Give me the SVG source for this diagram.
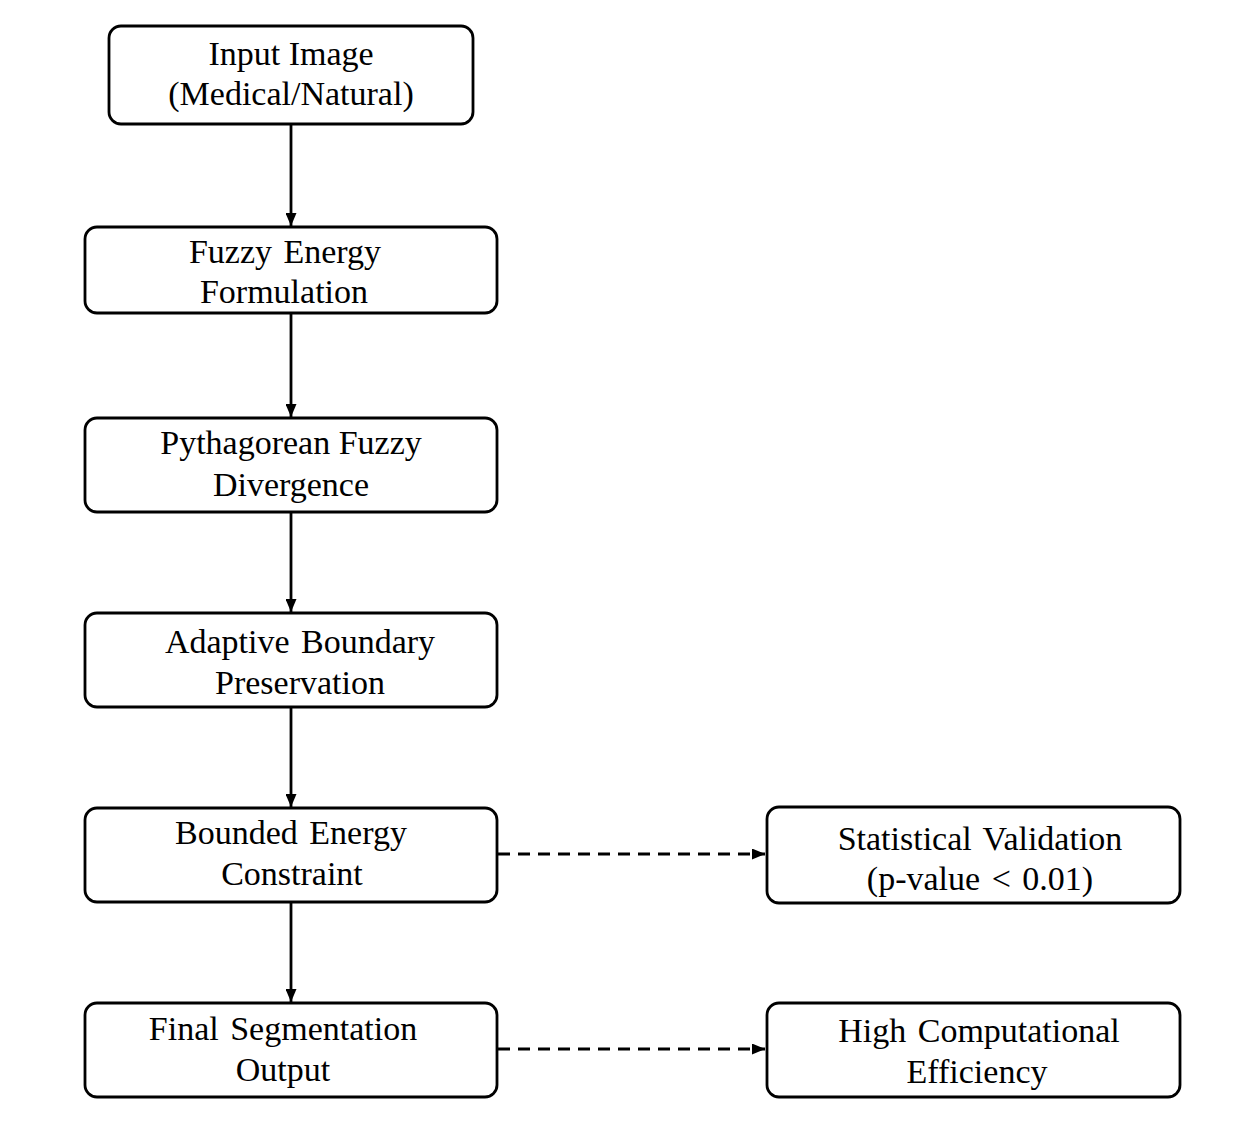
<svg xmlns="http://www.w3.org/2000/svg" width="1238" height="1130" viewBox="0 0 1238 1130">
<style>
.box{fill:#fff;stroke:#000;stroke-width:2.8}
.t{font-family:"Liberation Serif","Times New Roman",serif;font-size:34px;fill:#000;text-anchor:middle}
.c{stroke:#000;stroke-width:2.8;fill:none}
.d{stroke-width:3.2;stroke-dasharray:12 8}
</style>
<defs>
<marker id="ah" markerWidth="13" markerHeight="11" refX="13" refY="5.5" orient="auto" markerUnits="userSpaceOnUse">
<path d="M0,0 L13,5.5 L0,11 Z" fill="#000"/>
</marker>
</defs>
<rect width="1238" height="1130" fill="#fff"/>
<g id="connectors">
<line class="c" x1="291" y1="125" x2="291" y2="226" marker-end="url(#ah)"/>
<line class="c" x1="291" y1="314" x2="291" y2="417" marker-end="url(#ah)"/>
<line class="c" x1="291" y1="513" x2="291" y2="612" marker-end="url(#ah)"/>
<line class="c" x1="291" y1="708" x2="291" y2="807" marker-end="url(#ah)"/>
<line class="c" x1="291" y1="903" x2="291" y2="1002" marker-end="url(#ah)"/>
<line class="c d" x1="498" y1="854" x2="765" y2="854" marker-end="url(#ah)"/>
<line class="c d" x1="498" y1="1049" x2="765" y2="1049" marker-end="url(#ah)"/>
</g>
<g id="n1"><rect class="box" x="109" y="26" width="364" height="98" rx="12"/>
<text class="t" x="291" y="65">Input Image</text><text class="t" x="291" y="105">(Medical/Natural)</text></g>
<g id="n2"><rect class="box" x="85" y="227" width="412" height="86" rx="12"/>
<text class="t" x="285" y="263" word-spacing="3">Fuzzy Energy</text><text class="t" x="284" y="303">Formulation</text></g>
<g id="n3"><rect class="box" x="85" y="418" width="412" height="94" rx="12"/>
<text class="t" x="291" y="454">Pythagorean Fuzzy</text><text class="t" x="291" y="496">Divergence</text></g>
<g id="n4"><rect class="box" x="85" y="613" width="412" height="94" rx="12"/>
<text class="t" x="300" y="653" word-spacing="3">Adaptive Boundary</text><text class="t" x="300" y="694">Preservation</text></g>
<g id="n5"><rect class="box" x="85" y="808" width="412" height="94" rx="12"/>
<text class="t" x="291" y="844" word-spacing="3">Bounded Energy</text><text class="t" x="292" y="885">Constraint</text></g>
<g id="n6"><rect class="box" x="85" y="1003" width="412" height="94" rx="12"/>
<text class="t" x="283" y="1040" word-spacing="3">Final Segmentation</text><text class="t" x="283" y="1081">Output</text></g>
<g id="n7"><rect class="box" x="767" y="807" width="413" height="96" rx="12"/>
<text class="t" x="980" y="850" word-spacing="3">Statistical Validation</text><text class="t" x="980" y="890" word-spacing="3">(p-value &lt; 0.01)</text></g>
<g id="n8"><rect class="box" x="767" y="1003" width="413" height="94" rx="12"/>
<text class="t" x="979" y="1042" word-spacing="3">High Computational</text><text class="t" x="977" y="1083">Efficiency</text></g>
</svg>
